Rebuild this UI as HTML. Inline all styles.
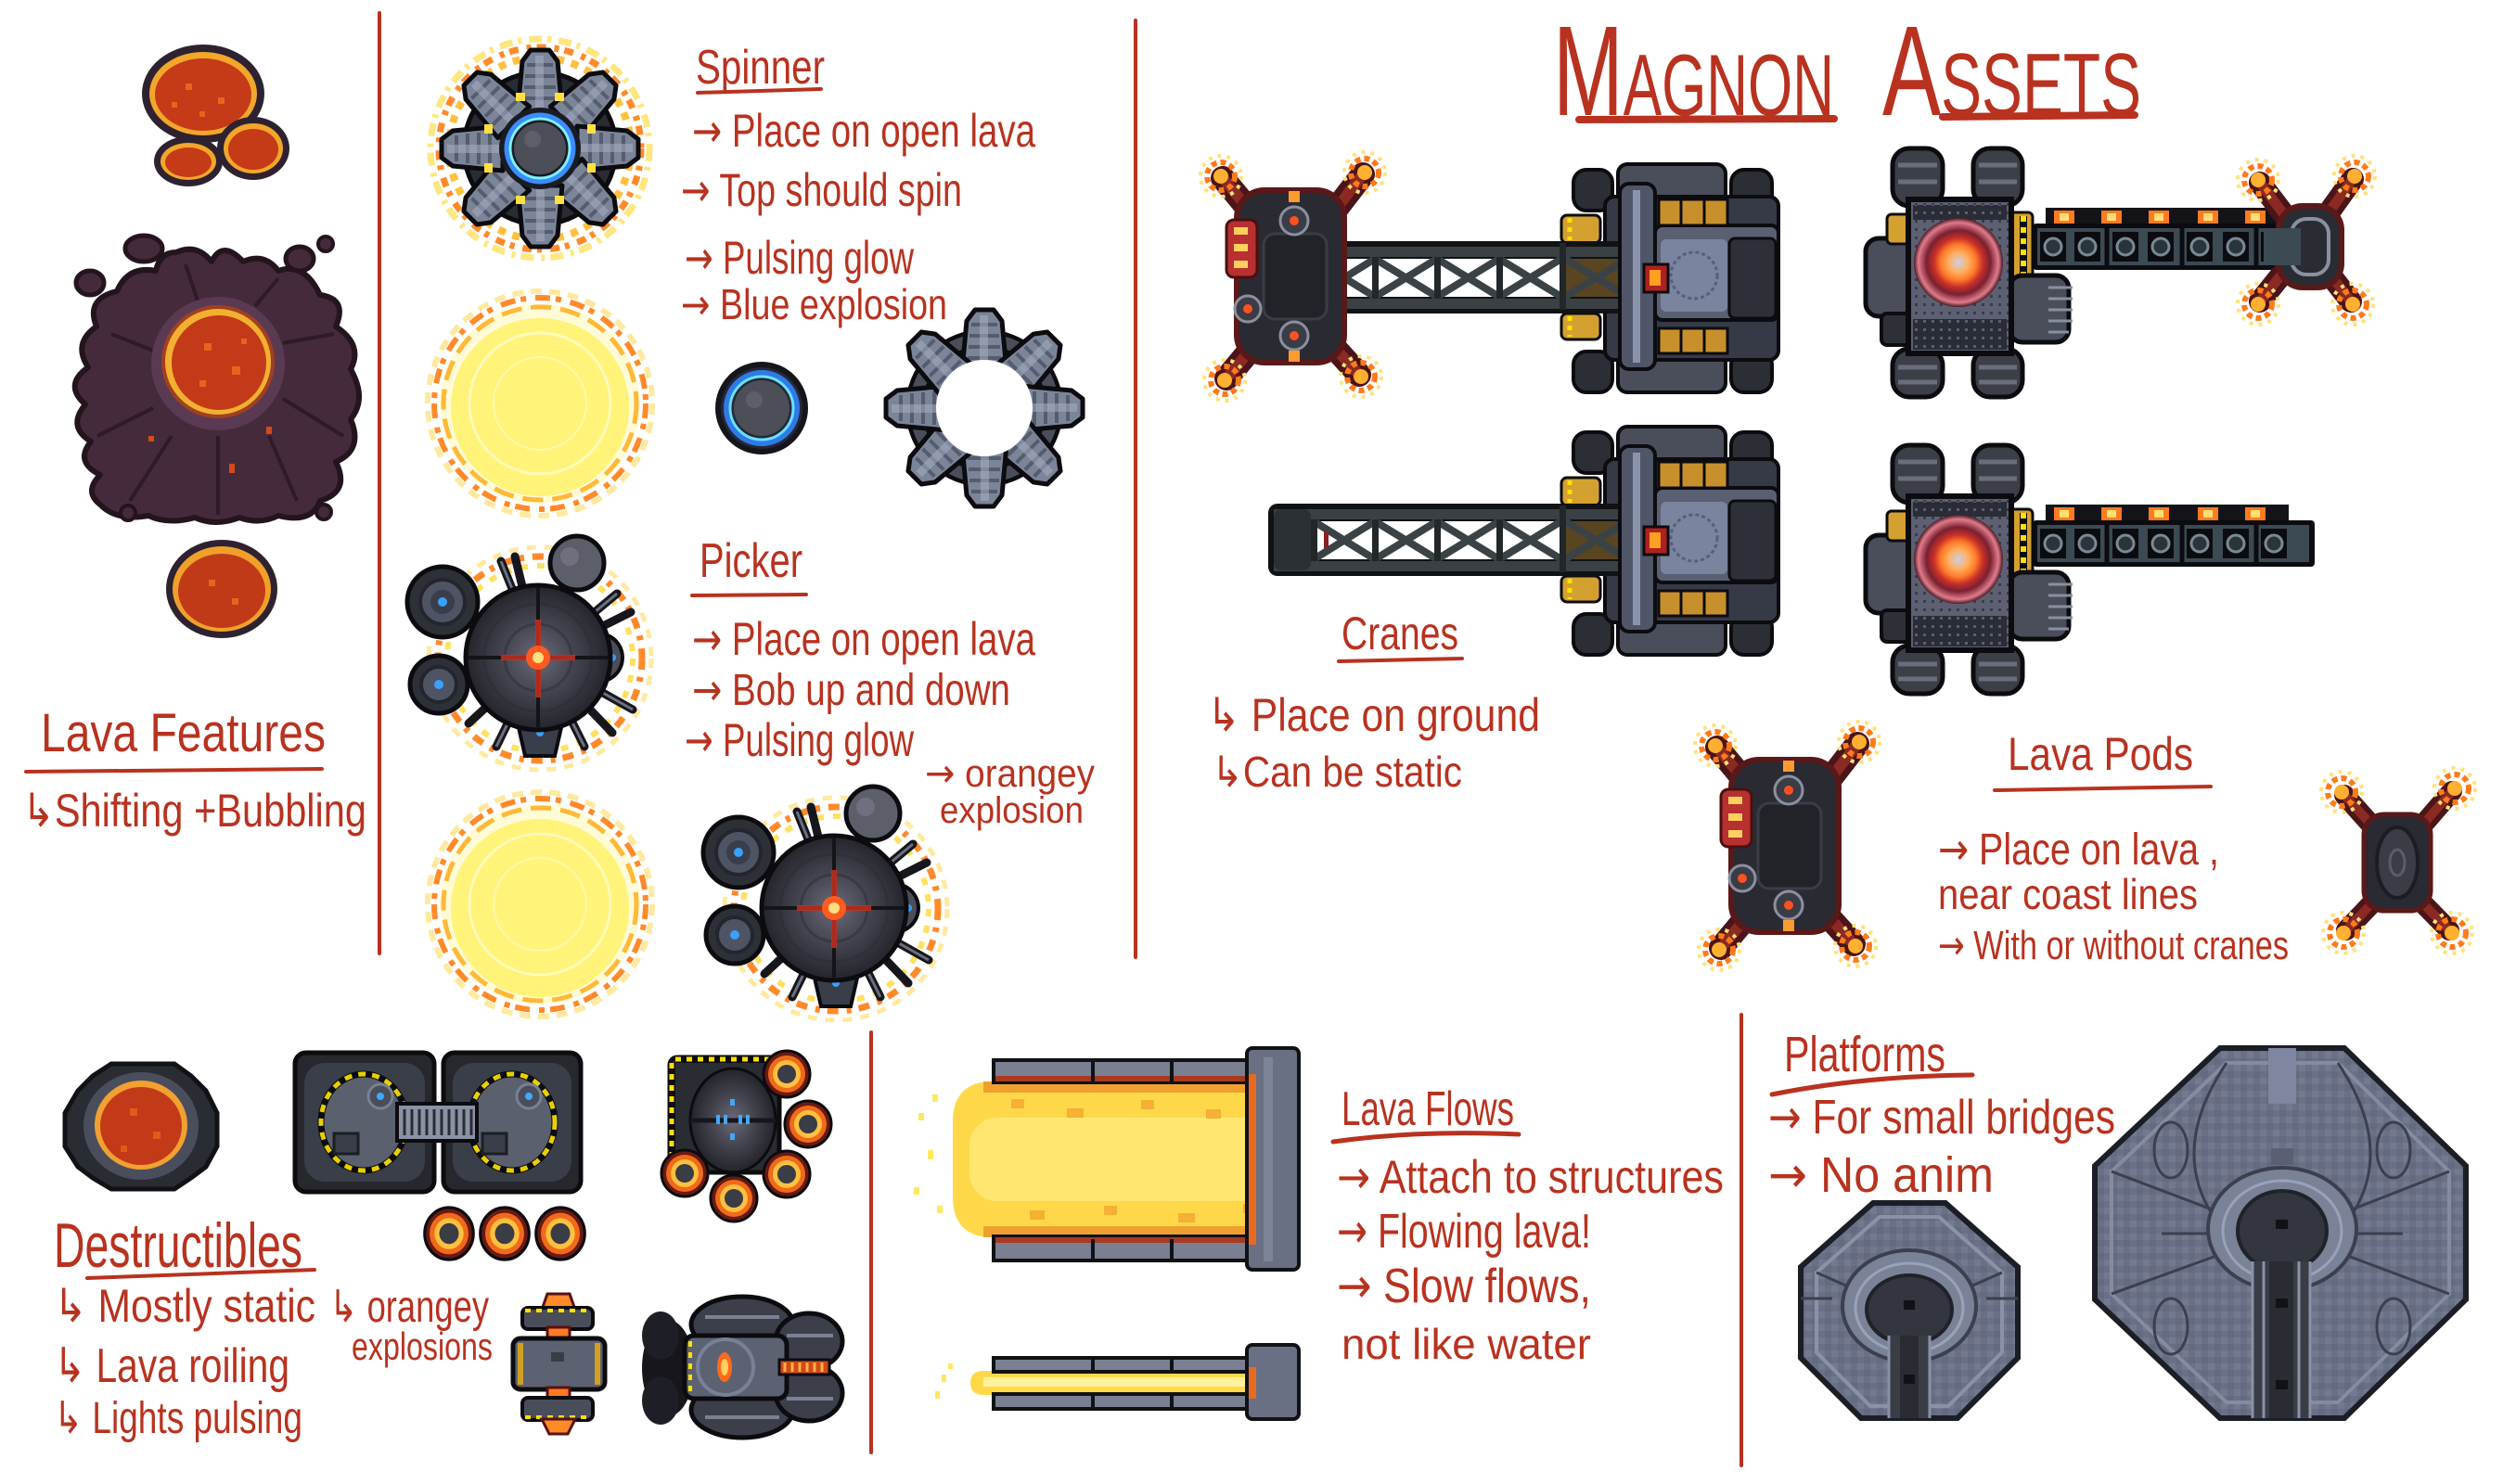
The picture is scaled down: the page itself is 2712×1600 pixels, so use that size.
<!DOCTYPE html>
<html><head><meta charset="utf-8">
<style>
html,body{margin:0;padding:0;background:#fff;}
svg{display:block;}
text{font-family:"Liberation Sans Narrow","Liberation Sans","DejaVu Sans",sans-serif;fill:#b8321f;}
.ar{font-family:"DejaVu Sans",sans-serif;}
</style></head><body>
<svg width="2712" height="1600" viewBox="0 0 2712 1600" xmlns="http://www.w3.org/2000/svg">
<defs>
<radialGradient id="sph" cx="0.5" cy="0.5" r="0.5">
<stop offset="0" stop-color="#6a6a7a"/><stop offset="0.5" stop-color="#44444f"/><stop offset="1" stop-color="#24242c"/>
</radialGradient>
<radialGradient id="lens" cx="0.5" cy="0.5" r="0.5">
<stop offset="0" stop-color="#c8d0e8"/><stop offset="0.22" stop-color="#ffb060"/><stop offset="0.4" stop-color="#ff7a28"/><stop offset="0.55" stop-color="#c8302a"/><stop offset="0.72" stop-color="#7a2030"/><stop offset="0.9" stop-color="#e07c8c"/><stop offset="1" stop-color="#4a1a24"/>
</radialGradient>
<pattern id="dots" width="9" height="9" patternUnits="userSpaceOnUse"><rect width="9" height="9" fill="#2a2c36"/><rect x="3" y="3" width="3" height="3" fill="#5a5e70"/></pattern>
<pattern id="dots2" width="9" height="9" patternUnits="userSpaceOnUse"><rect width="9" height="9" fill="#5c6072"/><rect x="3" y="3" width="3" height="3" fill="#3a3c48"/></pattern>
<pattern id="plat" width="14" height="14" patternUnits="userSpaceOnUse"><rect width="14" height="14" fill="#6a7086"/><rect width="7" height="7" fill="#737a90"/><rect x="7" y="7" width="7" height="7" fill="#646a80"/></pattern>

<g id="sarm">
<path d="M-24,-40 L24,-40 L19,-94 L10,-106 L-10,-106 L-19,-94 Z" fill="#7c8498" stroke="#0c0c10" stroke-width="5" stroke-linejoin="round"/>
<path d="M-18,-54 H18 M-17,-66 H17 M-16,-78 H16 M-14,-90 H14" stroke="#565c70" stroke-width="4"/>
<rect x="-5" y="-100" width="9" height="56" fill="#a6aec4" opacity=".55"/>
</g>

<g id="fire">
<circle r="22" fill="none" stroke="#ffe27a" stroke-width="4" stroke-dasharray="4 6"/>
<circle r="15" fill="none" stroke="#ff7a1a" stroke-width="6" stroke-dasharray="6 4"/>
<circle r="8" fill="#ffb030"/>
</g>

<g id="expl">
<circle r="121" fill="none" stroke="#ffe9a0" stroke-width="6" stroke-dasharray="12 8"/>
<circle r="114" fill="none" stroke="#ff8a2a" stroke-width="6" stroke-dasharray="16 6 6 10"/>
<circle r="108" fill="#fffbd6"/>
<circle r="104" fill="none" stroke="#ffb838" stroke-width="5" stroke-dasharray="22 10"/>
<ellipse cx="0" cy="4" rx="96" ry="96" fill="#fff37a"/>
<circle r="76" fill="none" stroke="#fffab8" stroke-width="3"/>
<circle r="50" fill="none" stroke="#fff8a8" stroke-width="2"/>
</g>

<g id="orb">
<circle r="25" fill="#6a1a14" stroke="#0c0c10" stroke-width="3"/>
<circle r="20" fill="#f06a1a"/>
<circle r="15" fill="#ffc040"/>
<circle r="10" fill="#3a3c46"/>
</g>

<g id="picker">
<circle cx="582" cy="710" r="120" fill="none" stroke="#ffe9a0" stroke-width="5" stroke-dasharray="10 9"/>
<circle cx="582" cy="710" r="110" fill="none" stroke="#ff8a2a" stroke-width="7" stroke-dasharray="12 8 5 9"/>
<circle cx="582" cy="710" r="100" fill="none" stroke="#ffe060" stroke-width="6" stroke-dasharray="8 10"/>
<g stroke="#16161c" stroke-width="9" stroke-linecap="round">
<line x1="582" y1="709" x2="540" y2="605"/><line x1="582" y1="709" x2="555" y2="600"/>
<line x1="582" y1="709" x2="665" y2="640"/><line x1="582" y1="709" x2="680" y2="660"/>
<line x1="582" y1="709" x2="682" y2="765"/><line x1="582" y1="709" x2="660" y2="790"/>
<line x1="582" y1="709" x2="630" y2="805"/><line x1="582" y1="709" x2="535" y2="805"/>
<line x1="582" y1="709" x2="505" y2="780"/>
</g>
<g stroke="#6a7080" stroke-width="3">
<line x1="582" y1="709" x2="540" y2="605"/><line x1="582" y1="709" x2="665" y2="640"/>
<line x1="582" y1="709" x2="682" y2="765"/><line x1="582" y1="709" x2="630" y2="805"/><line x1="582" y1="709" x2="535" y2="805"/>
</g>
<line x1="477" y1="649" x2="582" y2="709" stroke="#1a1c22" stroke-width="16"/>
<line x1="473" y1="738" x2="582" y2="709" stroke="#1a1c22" stroke-width="16"/>
<circle cx="477" cy="649" r="38" fill="#2e3038" stroke="#0c0c10" stroke-width="5"/>
<circle cx="477" cy="649" r="24" fill="#4e5464" stroke="#24262e" stroke-width="4"/>
<circle cx="477" cy="649" r="13" fill="#3a3e4a"/>
<circle cx="477" cy="649" r="5" fill="#3aa0ff"/>
<circle cx="473" cy="738" r="31" fill="#2e3038" stroke="#0c0c10" stroke-width="5"/>
<circle cx="473" cy="738" r="19" fill="#4e5464" stroke="#24262e" stroke-width="4"/>
<circle cx="473" cy="738" r="5" fill="#3aa0ff"/>
<circle cx="622" cy="607" r="29" fill="#5c5e6a" stroke="#0c0c10" stroke-width="5"/>
<circle cx="614" cy="600" r="10" fill="#6e7080"/>
<path d="M655,685 A26,26 0 0 1 655,733 Z" fill="#4a4e5a" stroke="#0c0c10" stroke-width="4"/>
<circle cx="660" cy="709" r="4" fill="#3aa0ff"/>
<path d="M558,780 H606 L598,815 H566 Z" fill="#3a3e4a" stroke="#0c0c10" stroke-width="4"/>
<circle cx="582" cy="790" r="4" fill="#3aa0ff"/>
<circle cx="580" cy="709" r="78" fill="url(#sph)" stroke="#0c0c10" stroke-width="5"/>
<circle cx="580" cy="709" r="58" fill="none" stroke="#30303a" stroke-width="3"/>
<circle cx="580" cy="709" r="36" fill="none" stroke="#3a3a46" stroke-width="3"/>
<line x1="504" y1="709" x2="656" y2="709" stroke="#141418" stroke-width="4"/>
<line x1="580" y1="633" x2="580" y2="785" stroke="#141418" stroke-width="4"/>
<line x1="540" y1="709" x2="620" y2="709" stroke="#c8301e" stroke-width="6" opacity=".85"/>
<line x1="580" y1="668" x2="580" y2="752" stroke="#c8301e" stroke-width="6" opacity=".85"/>
<circle cx="580" cy="709" r="13" fill="#ff5a20"/>
<circle cx="580" cy="709" r="6" fill="#ffe080"/>
</g>

<g id="cbase">
<rect x="1696" y="183" width="42" height="44" rx="14" fill="#2c2e36" stroke="#0c0c10" stroke-width="4"/>
<rect x="1866" y="183" width="44" height="44" rx="14" fill="#2c2e36" stroke="#0c0c10" stroke-width="4"/>
<rect x="1744" y="177" width="116" height="42" rx="10" fill="#4a4e5a" stroke="#0c0c10" stroke-width="4"/>
<rect x="1696" y="379" width="42" height="44" rx="14" fill="#2c2e36" stroke="#0c0c10" stroke-width="4"/>
<rect x="1866" y="379" width="44" height="44" rx="14" fill="#2c2e36" stroke="#0c0c10" stroke-width="4"/>
<rect x="1744" y="381" width="116" height="42" rx="10" fill="#4a4e5a" stroke="#0c0c10" stroke-width="4"/>
<rect x="1730" y="212" width="187" height="176" rx="10" fill="#363a46" stroke="#0c0c10" stroke-width="4"/>
<rect x="1784" y="243" width="133" height="102" rx="8" fill="#5a6072" stroke="#0c0c10" stroke-width="4"/>
<rect x="1790" y="258" width="72" height="78" rx="6" fill="#7a849e"/>
<circle cx="1826" cy="297" r="25" fill="none" stroke="#56607a" stroke-width="3" stroke-dasharray="4 3"/>
<rect x="1864" y="257" width="50" height="86" rx="6" fill="#2e3039" stroke="#0c0c10" stroke-width="3"/>
<rect x="1788" y="215" width="74" height="28" fill="#c8902c" stroke="#0c0c10" stroke-width="3"/>
<path d="M1812,215 V243 M1837,215 V243" stroke="#0c0c10" stroke-width="3"/>
<rect x="1788" y="354" width="74" height="27" fill="#c8902c" stroke="#0c0c10" stroke-width="3"/>
<path d="M1812,354 V381 M1837,354 V381" stroke="#0c0c10" stroke-width="3"/>
<rect x="1683" y="232" width="42" height="30" rx="6" fill="#d4a030" stroke="#0c0c10" stroke-width="3"/>
<line x1="1692" y1="235" x2="1692" y2="259" stroke="#ffe000" stroke-width="5" stroke-dasharray="5 5"/>
<rect x="1683" y="338" width="42" height="28" rx="6" fill="#d4a030" stroke="#0c0c10" stroke-width="3"/>
<line x1="1692" y1="341" x2="1692" y2="363" stroke="#ffe000" stroke-width="5" stroke-dasharray="5 5"/>
</g>
<g id="carm">
<rect x="1367" y="260" width="396" height="78" rx="10" fill="#101214"/>
<rect x="1373" y="266" width="384" height="11" fill="#3a4044"/>
<rect x="1373" y="322" width="384" height="11" fill="#3a4044"/>
<rect x="1373" y="266" width="40" height="66" rx="8" fill="#2a3033"/>
<rect x="1416" y="279" width="268" height="41" fill="#ffffff"/>
<rect x="1687" y="279" width="68" height="41" fill="#5a4522"/>
<g stroke="#3a4246" stroke-width="8">
<path d="M1416,279 L1482,320 M1416,320 L1482,279 M1482,279 L1549,320 M1482,320 L1549,279 M1549,279 L1616,320 M1549,320 L1616,279 M1616,279 L1683,320 M1616,320 L1683,279 M1687,279 L1755,320 M1687,320 L1755,279"/>
</g>
<g fill="#22272a"><rect x="1413" y="277" width="7" height="45"/><rect x="1479" y="277" width="7" height="45"/><rect x="1546" y="277" width="7" height="45"/><rect x="1613" y="277" width="7" height="45"/><rect x="1681" y="262" width="7" height="72"/></g>
<rect x="1427" y="290" width="5" height="18" fill="#8a2020"/>
</g>
<g id="cpipe">
<rect x="1746" y="198" width="38" height="200" rx="10" fill="#505668" stroke="#0c0c10" stroke-width="4"/>
<rect x="1760" y="205" width="8" height="186" fill="#8a94ac"/>
<rect x="1772" y="285" width="26" height="30" fill="#b02020" stroke="#0c0c10" stroke-width="3"/>
<rect x="1778" y="291" width="12" height="17" fill="#ffa020"/>
</g>

<g id="pod">
<g stroke-linecap="round">
<path d="M1362,245 L1318,192 M1425,245 L1469,188 M1362,360 L1322,408 M1425,360 L1465,404" stroke="#4a1418" stroke-width="26"/>
<path d="M1362,245 L1318,192 M1425,245 L1469,188 M1362,360 L1322,408 M1425,360 L1465,404" stroke="#8a2a22" stroke-width="12"/>
</g>
<use href="#fire" x="1316" y="190"/><use href="#fire" x="1471" y="186"/><use href="#fire" x="1320" y="410"/><use href="#fire" x="1467" y="406"/>
<rect x="1333" y="205" width="116" height="186" rx="30" fill="#2a2a32" stroke="#5a1818" stroke-width="6"/>
<rect x="1362" y="252" width="68" height="92" rx="12" fill="#222329" stroke="#3a3c46" stroke-width="3"/>
<rect x="1322" y="237" width="33" height="62" rx="8" fill="#b83030" stroke="#4a1010" stroke-width="3"/>
<rect x="1330" y="245" width="15" height="8" fill="#ffd060"/><rect x="1330" y="263" width="15" height="8" fill="#ffd060"/><rect x="1330" y="281" width="15" height="8" fill="#ffd060"/>
<circle cx="1395" cy="238" r="15" fill="#3a3c46" stroke="#8a90a0" stroke-width="3"/><circle cx="1395" cy="238" r="5" fill="#ff5020"/>
<circle cx="1395" cy="362" r="15" fill="#3a3c46" stroke="#8a90a0" stroke-width="3"/><circle cx="1395" cy="362" r="5" fill="#ff5020"/>
<circle cx="1345" cy="333" r="14" fill="#3a3c46" stroke="#8a90a0" stroke-width="3"/><circle cx="1345" cy="333" r="5" fill="#ff5020"/>
<rect x="1389" y="206" width="12" height="12" fill="#ff9a30"/><rect x="1389" y="378" width="12" height="12" fill="#ff9a30"/>
</g>

<g id="c2body">
<rect x="2040" y="160" width="54" height="62" rx="18" fill="#3c3e48" stroke="#0c0c10" stroke-width="5"/>
<rect x="2127" y="160" width="53" height="62" rx="18" fill="#3c3e48" stroke="#0c0c10" stroke-width="5"/>
<rect x="2040" y="376" width="54" height="52" rx="18" fill="#3c3e48" stroke="#0c0c10" stroke-width="5"/>
<rect x="2127" y="376" width="53" height="52" rx="18" fill="#3c3e48" stroke="#0c0c10" stroke-width="5"/>
<path d="M2046,178 H2088 M2046,196 H2088 M2133,178 H2174 M2133,196 H2174 M2046,396 H2088 M2046,412 H2088 M2133,396 H2174 M2133,412 H2174" stroke="#6a6e7c" stroke-width="5"/>
<rect x="2011" y="257" width="52" height="84" rx="14" fill="#4a4e5a" stroke="#0c0c10" stroke-width="5"/>
<rect x="2028" y="338" width="32" height="34" rx="6" fill="#2e3038" stroke="#0c0c10" stroke-width="4"/>
<rect x="2034" y="231" width="26" height="32" rx="5" fill="#d4a030" stroke="#0c0c10" stroke-width="3"/>
<rect x="2164" y="229" width="27" height="70" rx="5" fill="#d4a030" stroke="#0c0c10" stroke-width="3"/>
<line x1="2181" y1="233" x2="2181" y2="295" stroke="#0c0c10" stroke-width="8"/>
<line x1="2181" y1="233" x2="2181" y2="295" stroke="#ffe000" stroke-width="6" stroke-dasharray="6 6"/>
<rect x="2166" y="297" width="64" height="72" rx="14" fill="#4a4e5a" stroke="#0c0c10" stroke-width="5"/>
<path d="M2208,310 H2234 M2208,322 H2234 M2208,334 H2234 M2208,346 H2234 M2208,358 H2230" stroke="#8a90a0" stroke-width="3"/>
<rect x="2057" y="215" width="111" height="166" fill="url(#dots2)" stroke="#0c0c10" stroke-width="6"/>
<rect x="2062" y="221" width="101" height="16" fill="url(#dots)"/>
<rect x="2062" y="344" width="101" height="33" fill="url(#dots)"/>
<circle cx="2111" cy="283" r="48" fill="url(#lens)"/>
</g>
<g id="c2arm">
<rect x="2205" y="224" width="262" height="24" fill="#141418"/>
<g fill="#ff7a20"><rect x="2214" y="227" width="22" height="16"/><rect x="2265" y="227" width="22" height="16"/><rect x="2316" y="227" width="22" height="16"/><rect x="2369" y="227" width="22" height="16"/><rect x="2420" y="227" width="22" height="16"/></g>
<g fill="#ffe070"><rect x="2220" y="230" width="10" height="8"/><rect x="2271" y="230" width="10" height="8"/><rect x="2322" y="230" width="10" height="8"/><rect x="2375" y="230" width="10" height="8"/><rect x="2426" y="230" width="10" height="8"/></g>
<rect x="2191" y="241" width="304" height="50" rx="4" fill="#0c0c10"/>
<rect x="2196" y="246" width="293" height="40" fill="#3c4a54"/>
<g fill="#0c0c10"><rect x="2199" y="250" width="28" height="32"/><rect x="2236" y="250" width="28" height="32"/><rect x="2277" y="250" width="28" height="32"/><rect x="2315" y="250" width="28" height="32"/><rect x="2357" y="250" width="28" height="32"/><rect x="2396" y="250" width="28" height="32"/><rect x="2437" y="250" width="28" height="32"/></g>
<g fill="#2a343a" stroke="#7a8a94" stroke-width="3"><circle cx="2213" cy="266" r="9"/><circle cx="2250" cy="266" r="9"/><circle cx="2291" cy="266" r="9"/><circle cx="2329" cy="266" r="9"/><circle cx="2371" cy="266" r="9"/><circle cx="2410" cy="266" r="9"/><circle cx="2451" cy="266" r="9"/></g>
<path d="M2271,244 V290 M2352,244 V290 M2432,244 V290" stroke="#0c0c10" stroke-width="5"/>
</g>
</defs>

<!-- divider lines -->
<g stroke="#b8321f" stroke-width="4" stroke-linecap="round">
<line x1="409" y1="14" x2="409" y2="1028"/>
<line x1="1224" y1="22" x2="1224" y2="1032"/>
<line x1="939" y1="1113" x2="939" y2="1566"/>
<line x1="1877" y1="1094" x2="1877" y2="1580"/>
</g>

<!-- Lava features -->
<ellipse cx="219" cy="101" rx="66" ry="53" fill="#2e2230"/>
<ellipse cx="219" cy="101" rx="58" ry="45" fill="#f2a62a"/>
<ellipse cx="219" cy="102" rx="52" ry="39" fill="#c53a17"/>
<g fill="#e8641e"><rect x="200" y="90" width="7" height="7"/><rect x="235" y="105" width="7" height="7"/><rect x="215" y="120" width="6" height="6"/><rect x="185" y="110" width="6" height="6"/></g>
<ellipse cx="273" cy="160" rx="39" ry="34" fill="#2e2230"/>
<ellipse cx="273" cy="160" rx="32" ry="27" fill="#f2a62a"/>
<ellipse cx="273" cy="161" rx="27" ry="22" fill="#c53a17"/>
<ellipse cx="203" cy="174" rx="37" ry="27" fill="#2e2230"/>
<ellipse cx="203" cy="174" rx="30" ry="20" fill="#f2a62a"/>
<ellipse cx="203" cy="175" rx="25" ry="16" fill="#c53a17"/>

<path d="M190,272 Q212,262 228,282 Q240,258 262,282 Q285,272 300,292 Q328,282 345,318 Q375,322 362,352 Q392,372 378,398 Q396,430 378,452 Q392,485 362,498 Q378,530 345,540 Q336,565 300,556 Q280,566 258,558 Q232,568 210,558 Q182,566 160,556 Q125,562 108,544 Q90,530 108,512 Q80,498 98,476 Q72,460 92,436 Q68,415 95,396 Q78,370 104,352 Q92,322 126,314 Q138,286 168,292 Q172,272 190,272 Z" fill="#452a3c" stroke="#24141e" stroke-width="6" stroke-linejoin="round"/>
<g stroke="#2e1a28" stroke-width="4" fill="none">
<path d="M120,360 L170,380 M105,470 L165,440 M140,540 L185,470 M235,555 L235,470 M320,540 L290,470 M370,470 L305,430 M360,360 L305,370 M300,300 L275,330 M200,285 L215,330"/>
</g>
<ellipse cx="155" cy="268" rx="20" ry="14" fill="#452a3c" stroke="#24141e" stroke-width="5"/>
<ellipse cx="97" cy="305" rx="15" ry="13" fill="#452a3c" stroke="#24141e" stroke-width="5"/>
<ellipse cx="323" cy="279" rx="15" ry="13" fill="#452a3c" stroke="#24141e" stroke-width="5"/>
<circle cx="351" cy="263" r="8" fill="#452a3c" stroke="#24141e" stroke-width="4"/>
<circle cx="138" cy="553" r="8" fill="#452a3c" stroke="#24141e" stroke-width="4"/>
<circle cx="349" cy="552" r="8" fill="#452a3c" stroke="#24141e" stroke-width="4"/>
<circle cx="235" cy="392" r="72" fill="#5a3a52"/>
<circle cx="235" cy="390" r="61" fill="#a04020"/>
<circle cx="235" cy="390" r="57" fill="#f2b030"/>
<circle cx="236" cy="391" r="51" fill="#c33a18"/>
<g fill="#e8641e"><rect x="220" y="370" width="8" height="8"/><rect x="250" y="395" width="9" height="9"/><rect x="215" y="410" width="7" height="7"/><rect x="260" y="365" width="6" height="6"/></g>
<g fill="#d24a1a"><rect x="160" y="470" width="6" height="6"/><rect x="287" y="460" width="6" height="8"/><rect x="247" y="500" width="6" height="10"/></g>

<ellipse cx="239" cy="635" rx="60" ry="53" fill="#2e2230"/>
<ellipse cx="239" cy="635" rx="53" ry="46" fill="#f0a02a"/>
<ellipse cx="239" cy="637" rx="47" ry="40" fill="#c03a18"/>
<g fill="#e8641e"><rect x="225" y="625" width="7" height="7"/><rect x="250" y="645" width="7" height="7"/></g>

<text x="44" y="810" font-size="58" textLength="307" lengthAdjust="spacingAndGlyphs">Lava Features</text>
<path d="M28,832 L347,829" stroke="#b8321f" stroke-width="4" fill="none" stroke-linecap="round"/>
<text x="24" y="891" font-size="50" textLength="371" lengthAdjust="spacingAndGlyphs"><tspan class="ar">↳</tspan>Shifting +Bubbling</text>

<!-- Spinner -->
<g transform="translate(582,160)">
<circle r="118" fill="none" stroke="#ffe680" stroke-width="7" stroke-dasharray="14 6 4 8"/>
<circle r="109" fill="none" stroke="#ff8a2a" stroke-width="7" stroke-dasharray="10 9 5 6"/>
<circle r="98" fill="none" stroke="#ffc040" stroke-width="8" stroke-dasharray="8 8"/>
<circle r="82" fill="#2a2c34" stroke="#0c0c10" stroke-width="5"/>
<use href="#sarm"/>
<use href="#sarm" transform="rotate(45)"/>
<use href="#sarm" transform="rotate(90)"/>
<use href="#sarm" transform="rotate(135)"/>
<use href="#sarm" transform="rotate(180)"/>
<use href="#sarm" transform="rotate(225)"/>
<use href="#sarm" transform="rotate(270)"/>
<use href="#sarm" transform="rotate(315)"/>
<g fill="#ffe040">
<rect x="16" y="-60" width="10" height="9"/><rect x="-26" y="-60" width="10" height="9"/>
<rect x="16" y="51" width="10" height="9"/><rect x="-26" y="51" width="10" height="9"/>
<rect x="51" y="-26" width="9" height="10"/><rect x="51" y="16" width="9" height="10"/>
<rect x="-60" y="-26" width="9" height="10"/><rect x="-60" y="16" width="9" height="10"/>
</g>
<circle r="44" fill="#1a1c24"/>
<circle r="36" fill="none" stroke="#3a8cff" stroke-width="5"/>
<circle r="32" fill="none" stroke="#7ef0ff" stroke-width="3"/>
<circle r="28" fill="#4c4e58"/>
<circle cx="-8" cy="-10" r="9" fill="#5c5e68"/>
</g>

<use href="#expl" x="582" y="435"/>

<!-- blue orb -->
<circle cx="821" cy="440" r="50" fill="#14161c"/>
<circle cx="821" cy="440" r="44" fill="#252836"/>
<circle cx="821" cy="440" r="38" fill="none" stroke="#2f7ae8" stroke-width="6"/>
<circle cx="821" cy="440" r="34" fill="none" stroke="#6ae0ff" stroke-width="3"/>
<circle cx="821" cy="440" r="30" fill="#4c4e58"/>
<circle cx="813" cy="431" r="9" fill="#5c5e68"/>

<!-- ring of arms -->
<g transform="translate(1061,440)">
<circle r="74" fill="none" stroke="#0c0c10" stroke-width="22"/>
<circle r="74" fill="none" stroke="#4a4e5a" stroke-width="13"/>
<use href="#sarm"/>
<use href="#sarm" transform="rotate(45)"/>
<use href="#sarm" transform="rotate(90)"/>
<use href="#sarm" transform="rotate(135)"/>
<use href="#sarm" transform="rotate(180)"/>
<use href="#sarm" transform="rotate(225)"/>
<use href="#sarm" transform="rotate(270)"/>
<use href="#sarm" transform="rotate(315)"/>
<circle r="52" fill="#ffffff"/>
</g>

<use href="#picker"/>
<use href="#expl" x="582" y="975"/>
<use href="#picker" transform="translate(319,270)"/>

<text x="750" y="90" font-size="52" textLength="139" lengthAdjust="spacingAndGlyphs">Spinner</text>
<path d="M752,100 L885,96" stroke="#b8321f" stroke-width="4" fill="none" stroke-linecap="round"/>
<text x="746" y="158" font-size="50" textLength="370" lengthAdjust="spacingAndGlyphs"><tspan class="ar">→</tspan> Place on open lava</text>
<text x="734" y="222" font-size="50" textLength="303" lengthAdjust="spacingAndGlyphs"><tspan class="ar">→</tspan> Top should spin</text>
<text x="738" y="295" font-size="50" textLength="247" lengthAdjust="spacingAndGlyphs"><tspan class="ar">→</tspan> Pulsing glow</text>
<text x="734" y="344" font-size="46" textLength="287" lengthAdjust="spacingAndGlyphs"><tspan class="ar">→</tspan> Blue explosion</text>
<text x="754" y="622" font-size="52" textLength="111" lengthAdjust="spacingAndGlyphs">Picker</text>
<path d="M746,642 L869,641" stroke="#b8321f" stroke-width="4" fill="none" stroke-linecap="round"/>
<text x="746" y="706" font-size="50" textLength="370" lengthAdjust="spacingAndGlyphs"><tspan class="ar">→</tspan> Place on open lava</text>
<text x="746" y="760" font-size="48" textLength="343" lengthAdjust="spacingAndGlyphs"><tspan class="ar">→</tspan> Bob up and down</text>
<text x="738" y="815" font-size="50" textLength="247" lengthAdjust="spacingAndGlyphs"><tspan class="ar">→</tspan> Pulsing glow</text>
<text x="997" y="848" font-size="42" textLength="183" lengthAdjust="spacingAndGlyphs"><tspan class="ar">→</tspan> orangey</text>
<text x="1013" y="887" font-size="40" textLength="155" lengthAdjust="spacingAndGlyphs">explosion</text>

<!-- Title -->
<text x="1674" y="124" textLength="303" lengthAdjust="spacingAndGlyphs"><tspan font-size="138">M</tspan><tspan font-size="94">AGNON</tspan></text>
<text x="2029" y="124" textLength="279" lengthAdjust="spacingAndGlyphs"><tspan font-size="138">A</tspan><tspan font-size="96">SSETS</tspan></text>
<path d="M1702,129 L1977,128" stroke="#b8321f" stroke-width="8" fill="none" stroke-linecap="round"/>
<path d="M2094,126 L2301,124" stroke="#b8321f" stroke-width="8" fill="none" stroke-linecap="round"/>

<!-- Cranes -->
<use href="#cbase"/>
<use href="#carm"/>
<use href="#cpipe"/>
<use href="#pod"/>
<g transform="translate(0,283)">
<use href="#cbase"/><use href="#carm"/><use href="#cpipe"/>
</g>
<use href="#c2body"/>
<use href="#c2arm"/>
<g stroke-linecap="round">
<path d="M2486,263 L2436,197 M2486,263 L2536,193 M2486,263 L2436,325 M2486,263 L2534,325" stroke="#4a1418" stroke-width="24"/>
<path d="M2486,263 L2436,197 M2486,263 L2536,193 M2486,263 L2436,325 M2486,263 L2534,325" stroke="#8a2a22" stroke-width="11"/>
</g>
<rect x="2456" y="222" width="68" height="88" rx="26" fill="#2a2c34" stroke="#5a1a1a" stroke-width="6"/>
<rect x="2470" y="236" width="40" height="60" rx="16" fill="none" stroke="#8a90a0" stroke-width="4"/>
<rect x="2440" y="246" width="40" height="40" fill="#3c4a54"/>
<use href="#fire" x="2434" y="194"/><use href="#fire" x="2538" y="190"/><use href="#fire" x="2434" y="328"/><use href="#fire" x="2536" y="328"/>
<g transform="translate(0,320)">
<use href="#c2body"/><use href="#c2arm"/>
</g>

<text x="1446" y="700" font-size="50" textLength="126" lengthAdjust="spacingAndGlyphs">Cranes</text>
<path d="M1443,713 L1576,710" stroke="#b8321f" stroke-width="4" fill="none" stroke-linecap="round"/>
<text x="1301" y="788" font-size="50" textLength="359" lengthAdjust="spacingAndGlyphs"><tspan class="ar">↳</tspan> Place on ground</text>
<text x="1306" y="848" font-size="46" textLength="270" lengthAdjust="spacingAndGlyphs"><tspan class="ar">↳</tspan>Can be static</text>

<!-- Lava pods -->
<use href="#pod" transform="translate(533,614)"/>
<g stroke-linecap="round">
<path d="M2570,905 L2527,857 M2598,905 L2643,853 M2570,960 L2529,1003 M2598,960 L2640,1003" stroke="#4a1418" stroke-width="22"/>
<path d="M2570,905 L2527,857 M2598,905 L2643,853 M2570,960 L2529,1003 M2598,960 L2640,1003" stroke="#8a2a22" stroke-width="10"/>
</g>
<use href="#fire" x="2524" y="854"/><use href="#fire" x="2646" y="850"/><use href="#fire" x="2526" y="1006"/><use href="#fire" x="2643" y="1006"/>
<rect x="2548" y="878" width="72" height="104" rx="22" fill="#2a2a32" stroke="#5a1818" stroke-width="5"/>
<ellipse cx="2584" cy="930" rx="22" ry="38" fill="#3a3c46" stroke="#1c1d24" stroke-width="4"/>
<ellipse cx="2584" cy="930" rx="8" ry="14" fill="none" stroke="#5a5c68" stroke-width="3"/>

<text x="2164" y="830" font-size="50" textLength="200" lengthAdjust="spacingAndGlyphs">Lava Pods</text>
<path d="M2150,852 L2383,848" stroke="#b8321f" stroke-width="4" fill="none" stroke-linecap="round"/>
<text x="2089" y="932" font-size="48" textLength="303" lengthAdjust="spacingAndGlyphs"><tspan class="ar">→</tspan> Place on lava ,</text>
<text x="2089" y="980" font-size="46" textLength="280" lengthAdjust="spacingAndGlyphs">near coast lines</text>
<text x="2089" y="1034" font-size="44" textLength="378" lengthAdjust="spacingAndGlyphs"><tspan class="ar">→</tspan> With or without cranes</text>

<!-- Destructibles -->
<path d="M120,1147 H188 L206,1160 L222,1176 L234,1200 V1236 L222,1258 L206,1270 L188,1282 H120 L100,1270 L84,1258 L70,1236 V1200 L84,1176 L100,1160 Z" fill="#2a2c34" stroke="#101216" stroke-width="5"/>
<ellipse cx="152" cy="1214" rx="62" ry="58" fill="#4a4e5c"/>
<ellipse cx="152" cy="1213" rx="50" ry="48" fill="#f2a030"/>
<ellipse cx="152" cy="1214" rx="44" ry="42" fill="#c23a18"/>
<g fill="#e05a1c"><rect x="140" y="1195" width="8" height="8"/><rect x="165" y="1220" width="8" height="8"/><rect x="130" y="1235" width="7" height="7"/></g>

<g>
<rect x="318" y="1135" width="150" height="150" rx="12" fill="#26282e" stroke="#0c0c10" stroke-width="5"/>
<rect x="478" y="1135" width="148" height="150" rx="12" fill="#26282e" stroke="#0c0c10" stroke-width="5"/>
<rect x="328" y="1146" width="130" height="128" rx="22" fill="#3a3e48"/>
<rect x="488" y="1146" width="128" height="128" rx="22" fill="#3a3e48"/>
<ellipse cx="392" cy="1210" rx="46" ry="52" fill="#5a606e" stroke="#0c0c10" stroke-width="7"/>
<ellipse cx="392" cy="1210" rx="46" ry="52" fill="none" stroke="#e8d000" stroke-width="5" stroke-dasharray="8 7"/>
<ellipse cx="552" cy="1210" rx="46" ry="52" fill="#5a606e" stroke="#0c0c10" stroke-width="7"/>
<ellipse cx="552" cy="1210" rx="46" ry="52" fill="none" stroke="#e8d000" stroke-width="5" stroke-dasharray="8 7"/>
<circle cx="410" cy="1182" r="13" fill="#4a4e5a" stroke="#7a8094" stroke-width="3"/><circle cx="410" cy="1182" r="4" fill="#40a8ff"/>
<circle cx="570" cy="1182" r="13" fill="#4a4e5a" stroke="#7a8094" stroke-width="3"/><circle cx="570" cy="1182" r="4" fill="#40a8ff"/>
<rect x="360" y="1222" width="26" height="22" fill="#3a3e48" stroke="#1c1e24" stroke-width="3"/>
<rect x="520" y="1222" width="26" height="22" fill="#3a3e48" stroke="#1c1e24" stroke-width="3"/>
<rect x="428" y="1190" width="86" height="40" fill="#8a92a4" stroke="#0c0c10" stroke-width="4"/>
<path d="M436,1196 V1224 M444,1196 V1224 M452,1196 V1224 M460,1196 V1224 M468,1196 V1224 M476,1196 V1224 M484,1196 V1224 M492,1196 V1224 M500,1196 V1224 M508,1196 V1224" stroke="#2a2c34" stroke-width="3"/>
</g>

<rect x="722" y="1140" width="118" height="124" rx="8" fill="#2a2c34" stroke="#0c0c10" stroke-width="5"/>
<path d="M728,1142 H832 M724,1146 V1252" stroke="#0c0c10" stroke-width="8"/>
<path d="M728,1142 H832 M724,1146 V1252" stroke="#ffe000" stroke-width="5" stroke-dasharray="6 6"/>
<ellipse cx="790" cy="1208" rx="46" ry="56" fill="url(#sph)" stroke="#0c0c10" stroke-width="3"/>
<line x1="744" y1="1208" x2="836" y2="1208" stroke="#16161c" stroke-width="5"/>
<g fill="#40a8ff"><rect x="787" y="1185" width="5" height="7"/><rect x="787" y="1222" width="5" height="7"/><rect x="772" y="1202" width="4" height="10"/><rect x="780" y="1202" width="4" height="10"/><rect x="796" y="1202" width="4" height="10"/><rect x="804" y="1202" width="4" height="10"/></g>
<use href="#orb" x="848" y="1158"/>
<use href="#orb" x="871" y="1212"/>
<use href="#orb" x="848" y="1266"/>
<use href="#orb" x="791" y="1292"/>
<use href="#orb" x="738" y="1265"/>
<g transform="translate(484,1330) scale(1.05,1.12)"><use href="#orb"/></g>
<g transform="translate(544,1330) scale(1.05,1.12)"><use href="#orb"/></g>
<g transform="translate(604,1330) scale(1.05,1.12)"><use href="#orb"/></g>

<g>
<path d="M590,1395 L614,1395 L620,1412 L584,1412 Z" fill="#ff8a2a" stroke="#5a1010" stroke-width="3"/>
<rect x="563" y="1410" width="76" height="23" rx="6" fill="#4a4e5a" stroke="#0c0c10" stroke-width="4"/>
<line x1="566" y1="1413" x2="636" y2="1413" stroke="#ffe000" stroke-width="4" stroke-dasharray="6 6"/>
<rect x="590" y="1431" width="24" height="14" fill="#ff7a20" stroke="#5a1010" stroke-width="3"/>
<rect x="553" y="1443" width="99" height="55" rx="8" fill="#5c6272" stroke="#0c0c10" stroke-width="5"/>
<rect x="558" y="1448" width="6" height="45" fill="#d0a020"/><rect x="641" y="1448" width="6" height="45" fill="#d0a020"/>
<rect x="594" y="1458" width="14" height="10" fill="#3a3c46"/>
<rect x="590" y="1496" width="24" height="13" fill="#ff7a20" stroke="#5a1010" stroke-width="3"/>
<rect x="563" y="1507" width="76" height="24" rx="6" fill="#4a4e5a" stroke="#0c0c10" stroke-width="4"/>
<line x1="566" y1="1528" x2="636" y2="1528" stroke="#ffe000" stroke-width="4" stroke-dasharray="6 6"/>
<path d="M584,1530 L620,1530 L612,1546 L592,1546 Z" fill="#ff8a2a" stroke="#5a1010" stroke-width="3"/>
</g>

<g>
<ellipse cx="720" cy="1475" rx="28" ry="52" fill="#16161c"/>
<ellipse cx="712" cy="1440" rx="20" ry="26" fill="#1e1e26"/>
<ellipse cx="712" cy="1510" rx="20" ry="26" fill="#1e1e26"/>
<ellipse cx="800" cy="1428" rx="55" ry="30" fill="#3c3e4a" stroke="#0c0c10" stroke-width="5"/>
<ellipse cx="800" cy="1520" rx="55" ry="30" fill="#3c3e4a" stroke="#0c0c10" stroke-width="5"/>
<ellipse cx="872" cy="1446" rx="36" ry="30" fill="#3c3e4a" stroke="#0c0c10" stroke-width="5"/>
<ellipse cx="872" cy="1502" rx="36" ry="30" fill="#3c3e4a" stroke="#0c0c10" stroke-width="5"/>
<path d="M760,1420 H840 M760,1528 H840 M848,1440 H898 M848,1508 H898" stroke="#7a8092" stroke-width="4"/>
<rect x="738" y="1440" width="110" height="68" rx="10" fill="#5c6272" stroke="#0c0c10" stroke-width="5"/>
<ellipse cx="782" cy="1474" rx="30" ry="30" fill="none" stroke="#7a8096" stroke-width="4"/>
<line x1="744" y1="1446" x2="744" y2="1502" stroke="#ffe000" stroke-width="4" stroke-dasharray="6 6"/>
<ellipse cx="781" cy="1474" rx="8" ry="16" fill="#ff6a1a"/>
<ellipse cx="781" cy="1474" rx="4" ry="9" fill="#ffd060"/>
<rect x="840" y="1466" width="54" height="16" fill="#d04a18" stroke="#0c0c10" stroke-width="3"/>
<path d="M846,1469 V1479 M854,1469 V1479 M862,1469 V1479 M870,1469 V1479 M878,1469 V1479 M886,1469 V1479" stroke="#ffb040" stroke-width="3"/>
</g>

<text x="58" y="1366" font-size="68" textLength="268" lengthAdjust="spacingAndGlyphs">Destructibles</text>
<path d="M94,1378 L339,1369" stroke="#b8321f" stroke-width="4" fill="none" stroke-linecap="round"/>
<text x="58" y="1425" font-size="50" textLength="282" lengthAdjust="spacingAndGlyphs"><tspan class="ar">↳</tspan> Mostly static</text>
<text x="355" y="1425" font-size="48" textLength="172" lengthAdjust="spacingAndGlyphs"><tspan class="ar">↳</tspan> orangey</text>
<text x="379" y="1466" font-size="42" textLength="152" lengthAdjust="spacingAndGlyphs">explosions</text>
<text x="58" y="1490" font-size="52" textLength="254" lengthAdjust="spacingAndGlyphs"><tspan class="ar">↳</tspan> Lava roiling</text>
<text x="58" y="1545" font-size="48" textLength="268" lengthAdjust="spacingAndGlyphs"><tspan class="ar">↳</tspan> Lights pulsing</text>

<!-- Lava flows -->
<g fill="#ffe860"><rect x="990" y="1200" width="6" height="8"/><rect x="1000" y="1240" width="6" height="10"/><rect x="985" y="1280" width="6" height="8"/><rect x="1010" y="1300" width="6" height="8"/><rect x="1005" y="1180" width="6" height="8"/></g>
<path d="M1070,1166 H1395 V1334 H1070 Q1027,1334 1027,1290 V1210 Q1027,1166 1070,1166 Z" fill="#ffd84a"/>
<rect x="1045" y="1205" width="345" height="90" rx="30" fill="#ffec80" opacity=".7"/>
<g fill="#f5b035"><rect x="1090" y="1185" width="14" height="10"/><rect x="1150" y="1195" width="18" height="10"/><rect x="1230" y="1186" width="14" height="10"/><rect x="1300" y="1196" width="16" height="10"/><rect x="1110" y="1305" width="16" height="10"/><rect x="1190" y="1300" width="14" height="10"/><rect x="1270" y="1308" width="18" height="10"/><rect x="1340" y="1298" width="14" height="10"/></g>
<rect x="1060" y="1166" width="335" height="12" fill="#f0a030"/>
<rect x="1060" y="1322" width="335" height="12" fill="#f0a030"/>
<rect x="1071" y="1143" width="300" height="24" fill="#7a8092" stroke="#101216" stroke-width="4"/>
<rect x="1073" y="1160" width="296" height="6" fill="#a83a20"/>
<rect x="1071" y="1333" width="300" height="26" fill="#7a8092" stroke="#101216" stroke-width="4"/>
<rect x="1073" y="1334" width="296" height="6" fill="#a83a20"/>
<path d="M1178,1143 V1166 M1263,1143 V1166 M1178,1336 V1359 M1263,1336 V1359" stroke="#101216" stroke-width="4"/>
<rect x="1344" y="1130" width="56" height="239" rx="6" fill="#6a7084" stroke="#101216" stroke-width="4"/>
<rect x="1346" y="1158" width="8" height="184" fill="#e86a20"/>
<rect x="1362" y="1140" width="10" height="220" fill="#7e8498"/>

<g fill="#ffe860"><rect x="1015" y="1482" width="5" height="8"/><rect x="1008" y="1500" width="5" height="8"/><rect x="1022" y="1470" width="5" height="6"/></g>
<path d="M1060,1478 H1395 V1504 H1060 Q1046,1504 1046,1491 Q1046,1478 1060,1478 Z" fill="#ffd84a"/>
<rect x="1060" y="1485" width="330" height="10" fill="#fff29c"/>
<rect x="1071" y="1464" width="300" height="15" fill="#7a8092" stroke="#101216" stroke-width="4"/>
<rect x="1071" y="1503" width="300" height="16" fill="#7a8092" stroke="#101216" stroke-width="4"/>
<path d="M1178,1464 V1479 M1263,1464 V1479 M1178,1503 V1519 M1263,1503 V1519" stroke="#101216" stroke-width="4"/>
<rect x="1344" y="1450" width="56" height="80" rx="6" fill="#6a7084" stroke="#101216" stroke-width="4"/>
<rect x="1346" y="1474" width="8" height="34" fill="#e86a20"/>

<text x="1446" y="1213" font-size="52" textLength="186" lengthAdjust="spacingAndGlyphs">Lava Flows</text>
<path d="M1437,1231 Q1530,1218 1637,1223" stroke="#b8321f" stroke-width="5" fill="none" stroke-linecap="round"/>
<text x="1441" y="1286" font-size="50" textLength="417" lengthAdjust="spacingAndGlyphs"><tspan class="ar">→</tspan> Attach to structures</text>
<text x="1441" y="1345" font-size="52" textLength="274" lengthAdjust="spacingAndGlyphs"><tspan class="ar">→</tspan> Flowing lava!</text>
<text x="1441" y="1404" font-size="52" textLength="274" lengthAdjust="spacingAndGlyphs"><tspan class="ar">→</tspan> Slow flows,</text>
<text x="1446" y="1465" font-size="46" textLength="269" lengthAdjust="spacingAndGlyphs">not like water</text>

<!-- Platforms -->
<path d="M2019,1297 H2097 L2175,1366 V1464 L2110,1529 H2006 L1941,1464 V1366 Z" fill="url(#plat)" stroke="#1c1e26" stroke-width="6"/>
<path d="M2026,1312 H2090 L2158,1372 V1458 L2100,1516 H2016 L1958,1458 V1372 Z" fill="none" stroke="#8a92a8" stroke-width="4"/>
<path d="M1941,1400 H1975 M2141,1400 H2175 M1958,1372 L2010,1395 M2158,1372 L2106,1395" stroke="#3c404e" stroke-width="3"/>
<ellipse cx="2058" cy="1408" rx="72" ry="60" fill="#7a8298" stroke="#3c404e" stroke-width="4"/>
<ellipse cx="2058" cy="1410" rx="58" ry="48" fill="none" stroke="#9aa2b8" stroke-width="3"/>
<ellipse cx="2058" cy="1412" rx="46" ry="37" fill="#33353f" stroke="#20222a" stroke-width="4"/>
<rect x="2036" y="1440" width="44" height="89" fill="#3a3c46"/>
<rect x="2048" y="1440" width="20" height="89" fill="#2a2c34"/>
<path d="M2036,1440 V1529 M2080,1440 V1529" stroke="#8a92a8" stroke-width="3"/>
<rect x="2052" y="1402" width="12" height="10" fill="#111216"/>
<rect x="2052" y="1482" width="12" height="10" fill="#111216"/>

<path d="M2393,1130 H2527 L2658,1257 V1401 L2527,1529 H2393 L2258,1401 V1257 Z" fill="url(#plat)" stroke="#1c1e26" stroke-width="6"/>
<path d="M2400,1146 H2520 L2640,1263 V1395 L2520,1512 H2400 L2276,1395 V1263 Z" fill="none" stroke="#848ca2" stroke-width="4"/>
<g stroke="#3c404e" stroke-width="3" fill="none">
<path d="M2276,1263 L2400,1310 M2640,1263 L2520,1310 M2276,1395 L2400,1350 M2640,1395 L2520,1350"/>
<path d="M2400,1146 Q2330,1250 2400,1330 M2520,1146 Q2590,1250 2520,1330"/>
<path d="M2330,1330 H2380 M2540,1330 H2590"/>
<ellipse cx="2340" cy="1240" rx="18" ry="30"/><ellipse cx="2580" cy="1240" rx="18" ry="30"/>
<ellipse cx="2340" cy="1430" rx="18" ry="30"/><ellipse cx="2580" cy="1430" rx="18" ry="30"/>
</g>
<rect x="2445" y="1130" width="30" height="60" fill="#7e86a0"/>
<rect x="2448" y="1238" width="24" height="18" fill="#5a6074"/>
<ellipse cx="2460" cy="1325" rx="80" ry="66" fill="#7a8298" stroke="#3c404e" stroke-width="4"/>
<ellipse cx="2460" cy="1327" rx="64" ry="54" fill="none" stroke="#9aa2b8" stroke-width="3"/>
<ellipse cx="2460" cy="1327" rx="48" ry="43" fill="#33353f" stroke="#20222a" stroke-width="4"/>
<rect x="2428" y="1360" width="62" height="169" fill="#3a3c46"/>
<rect x="2446" y="1360" width="26" height="169" fill="#2a2c34"/>
<path d="M2428,1360 V1529 M2490,1360 V1529 M2440,1360 V1529 M2478,1360 V1529" stroke="#8a92a8" stroke-width="3"/>
<rect x="2453" y="1315" width="13" height="10" fill="#111216"/>
<rect x="2453" y="1400" width="13" height="10" fill="#111216"/>
<rect x="2453" y="1488" width="13" height="10" fill="#111216"/>

<text x="1923" y="1155" font-size="54" textLength="174" lengthAdjust="spacingAndGlyphs">Platforms</text>
<path d="M1910,1180 Q2010,1160 2126,1159" stroke="#b8321f" stroke-width="5" fill="none" stroke-linecap="round"/>
<text x="1906" y="1222" font-size="52" textLength="374" lengthAdjust="spacingAndGlyphs"><tspan class="ar">→</tspan> For small bridges</text>
<text x="1906" y="1285" font-size="54" textLength="243" lengthAdjust="spacingAndGlyphs"><tspan class="ar">→</tspan> No anim</text>
</svg>
</body></html>
